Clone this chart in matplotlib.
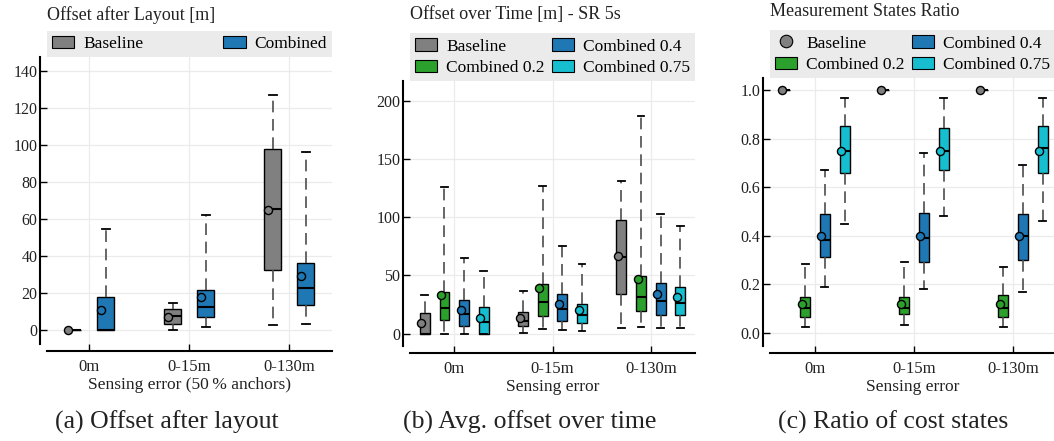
import matplotlib
matplotlib.use('Agg')
import matplotlib.pyplot as plt
from matplotlib.patches import Patch
from matplotlib.lines import Line2D

plt.rcParams['font.family'] = ['Liberation Serif', 'DejaVu Serif']

categories = ['0m', '0-15m', '0-130m']

# (a) offset after layout
a_base_q1 = [0, 3.6, 32.4]
a_base_med = [0, 7.6, 65.2]
a_base_q3 = [0, 11.4, 97.7]
a_base_lo = [0, 0.2, 2.7]
a_base_hi = [0, 14.6, 127]
a_base_mean = [0, 7.4, 65]

a_comb_q1 = [0, 7.4, 13.5]
a_comb_med = [0, 12.8, 22.9]
a_comb_q3 = [18.2, 21.6, 36.3]
a_comb_lo = [0, 1.8, 3.6]
a_comb_hi = [54.8, 62, 96.3]
a_comb_mean = [11, 18.2, 29.5]

# (b) avg offset over time
b_base_q1 = [0, 6.3, 33.7]
b_base_med = [0, 10.9, 65.7]
b_base_q3 = [17.4, 18.6, 97.7]
b_base_lo = [0, 0.6, 4.9]
b_base_hi = [33.4, 36.9, 130.7]
b_base_mean = [8.9, 13.4, 66.3]

b_c02_q1 = [12, 15.1, 19.4]
b_c02_med = [21.7, 27.1, 31.7]
b_c02_q3 = [36, 42.9, 49.7]
b_c02_lo = [0, 4.3, 5.4]
b_c02_hi = [126.1, 127, 187]
b_c02_mean = [33.4, 39.1, 46.9]

b_c04_q1 = [6.9, 11.1, 16]
b_c04_med = [17.1, 20.9, 27.7]
b_c04_q3 = [28.9, 34, 43.1]
b_c04_lo = [0, 2.9, 4.9]
b_c04_hi = [64.9, 75.4, 102.6]
b_c04_mean = [20, 25.1, 34.3]

b_c075_q1 = [0, 9.1, 15.7]
b_c075_med = [10, 15.7, 26.3]
b_c075_q3 = [22.9, 25.4, 40]
b_c075_lo = [0, 2.3, 4.9]
b_c075_hi = [54, 59.7, 92.3]
b_c075_mean = [13.7, 20, 31.4]

# (c) ratio of cost states
c_base_q1 = [1.0, 1.0, 1.0]
c_base_med = [1.0, 1.0, 1.0]
c_base_q3 = [1.0, 1.0, 1.0]
c_base_lo = [1.0, 1.0, 1.0]
c_base_hi = [1.0, 1.0, 1.0]
c_base_mean = [1.0, 1.0, 1.0]

c_c02_q1 = [0.066, 0.08, 0.066]
c_c02_med = [0.102, 0.102, 0.102]
c_c02_q3 = [0.146, 0.146, 0.157]
c_c02_lo = [0.023, 0.033, 0.023]
c_c02_hi = [0.283, 0.293, 0.271]
c_c02_mean = [0.118, 0.118, 0.118]

c_c04_q1 = [0.313, 0.291, 0.302]
c_c04_med = [0.384, 0.393, 0.4]
c_c04_q3 = [0.492, 0.495, 0.492]
c_c04_lo = [0.19, 0.179, 0.169]
c_c04_hi = [0.672, 0.742, 0.694]
c_c04_mean = [0.4, 0.4, 0.4]

c_c075_q1 = [0.659, 0.672, 0.659]
c_c075_med = [0.75, 0.75, 0.764]
c_c075_q3 = [0.852, 0.843, 0.852]
c_c075_lo = [0.448, 0.484, 0.462]
c_c075_hi = [0.967, 0.967, 0.967]
c_c075_mean = [0.75, 0.75, 0.75]

GRAY = '#808080'
BLUE = '#1f77b4'
GREEN = '#2ca02c'
CYAN = '#17becf'
LEGEND_BG = '#ebebeb'

W, H = 1054, 441
fig = plt.figure(figsize=(W / 100, H / 100), dpi=100)


def px_axes(left, top, right, bottom):
    return fig.add_axes([left / W, 1 - bottom / H, (right - left) / W, (bottom - top) / H])


def draw_series(ax, q1, med, q3, lo, hi, mean, offset, width, capw, color, mean_shift):
    stats = []
    for i in range(len(categories)):
        stats.append({'q1': q1[i], 'med': med[i], 'q3': q3[i],
                      'whislo': lo[i], 'whishi': hi[i], 'fliers': []})
    pos = [i + 1 + offset for i in range(len(categories))]
    ax.bxp(stats, positions=pos, widths=width, capwidths=capw, patch_artist=True,
           showfliers=False,
           boxprops=dict(facecolor=color, edgecolor='black', linewidth=1.0),
           whiskerprops=dict(color='#4d4d4d', linewidth=1.2, linestyle=(0, (7, 4))),
           capprops=dict(color='black', linewidth=1.3),
           medianprops=dict(color='black', linewidth=1.5),
           manage_ticks=False, zorder=3)
    ax.scatter([p + mean_shift for p in pos], mean, s=34, color=color,
               edgecolor='black', linewidth=1.0, zorder=5)


def style_axes(ax, xlim, ylim, yticks, xlabel):
    ax.set_xlim(*xlim)
    ax.set_ylim(*ylim)
    ax.set_xticks([1, 2, 3])
    ax.set_xticklabels(categories)
    ax.set_yticks(yticks)
    ax.grid(True, color='#ebebeb', linewidth=0.9, zorder=0)
    ax.set_axisbelow(True)
    for s in ['top', 'right']:
        ax.spines[s].set_visible(False)
    ax.spines['left'].set_position(('outward', 5))
    ax.spines['bottom'].set_position(('outward', 5))
    ax.spines['left'].set_linewidth(1.5)
    ax.spines['bottom'].set_linewidth(1.5)
    ax.tick_params(axis='both', direction='in', length=5, width=1, labelcolor='#222222')
    ax.tick_params(axis='y', pad=2, labelsize=11.5)
    ax.tick_params(axis='x', pad=5.5, labelsize=12)
    ax.set_xlabel(xlabel, fontsize=12.5, labelpad=1.5, color='#222222')


def add_legend(ax, handles, labels, ncol):
    leg = ax.legend(handles, labels, loc='lower left', bbox_to_anchor=(0, 1, 1, 0.2),
                    mode='expand', ncol=ncol, borderaxespad=0, fontsize=12.5,
                    frameon=True, fancybox=False, facecolor=LEGEND_BG, edgecolor=LEGEND_BG,
                    framealpha=1, borderpad=0.28, labelspacing=0.3, handlelength=1.3,
                    handleheight=0.75, handletextpad=0.5, columnspacing=1.0)
    leg.get_frame().set_linewidth(0)
    return leg


def box_handle(color):
    return Patch(facecolor=color, edgecolor='black', linewidth=0.8)


# ---- (a)
ax_a = px_axes(47, 57, 332, 344)
draw_series(ax_a, a_base_q1, a_base_med, a_base_q3, a_base_lo, a_base_hi, a_base_mean,
            -0.165, 0.17, 0.08, GRAY, -0.05)
draw_series(ax_a, a_comb_q1, a_comb_med, a_comb_q3, a_comb_lo, a_comb_hi, a_comb_mean,
            0.165, 0.17, 0.08, BLUE, -0.05)
style_axes(ax_a, (0.58, 3.43), (-7.4, 147.4), range(0, 141, 20),
           'Sensing error (50\u2009% anchors)')
add_legend(ax_a, [box_handle(GRAY), box_handle(BLUE)], ['Baseline', 'Combined'], 2)
fig.text(47 / W, 1 - 15 / H, 'Offset after Layout [m]', fontsize=13, va='center', ha='left',
         color='#222222')

# ---- (b)
ax_b = px_axes(410, 81, 695, 346)
draw_series(ax_b, b_base_q1, b_base_med, b_base_q3, b_base_lo, b_base_hi, b_base_mean,
            -0.3, 0.1, 0.07, GRAY, -0.035)
draw_series(ax_b, b_c02_q1, b_c02_med, b_c02_q3, b_c02_lo, b_c02_hi, b_c02_mean,
            -0.1, 0.1, 0.07, GREEN, -0.035)
draw_series(ax_b, b_c04_q1, b_c04_med, b_c04_q3, b_c04_lo, b_c04_hi, b_c04_mean,
            0.1, 0.1, 0.07, BLUE, -0.035)
draw_series(ax_b, b_c075_q1, b_c075_med, b_c075_q3, b_c075_lo, b_c075_hi, b_c075_mean,
            0.3, 0.1, 0.07, CYAN, -0.035)
style_axes(ax_b, (0.549, 3.45), (-10.6, 217), range(0, 201, 50), 'Sensing error')
add_legend(ax_b, [box_handle(GRAY), box_handle(GREEN), box_handle(BLUE), box_handle(CYAN)],
           ['Baseline', 'Combined 0.2', 'Combined 0.4', 'Combined 0.75'], 2)
fig.text(410 / W, 1 - 14.5 / H, 'Offset over Time [m] - SR 5s', fontsize=13, va='center',
         ha='left', color='#222222')

# ---- (c)
ax_c = px_axes(770, 78, 1055, 346)
draw_series(ax_c, c_base_q1, c_base_med, c_base_q3, c_base_lo, c_base_hi, c_base_mean,
            -0.3, 0.1, 0.07, GRAY, -0.035)
draw_series(ax_c, c_c02_q1, c_c02_med, c_c02_q3, c_c02_lo, c_c02_hi, c_c02_mean,
            -0.1, 0.1, 0.07, GREEN, -0.035)
draw_series(ax_c, c_c04_q1, c_c04_med, c_c04_q3, c_c04_lo, c_c04_hi, c_c04_mean,
            0.1, 0.1, 0.07, BLUE, -0.035)
draw_series(ax_c, c_c075_q1, c_c075_med, c_c075_q3, c_c075_lo, c_c075_hi, c_c075_mean,
            0.3, 0.1, 0.07, CYAN, -0.035)
style_axes(ax_c, (0.545, 3.424), (-0.054, 1.051), [0.0, 0.2, 0.4, 0.6, 0.8, 1.0],
           'Sensing error')
ax_c.set_yticklabels(['0.0', '0.2', '0.4', '0.6', '0.8', '1.0'])
gray_dot = Line2D([], [], marker='o', linestyle='none', markersize=9,
                  markerfacecolor=GRAY, markeredgecolor='black', markeredgewidth=0.8)
add_legend(ax_c, [gray_dot, box_handle(GREEN), box_handle(BLUE), box_handle(CYAN)],
           ['Baseline', 'Combined 0.2', 'Combined 0.4', 'Combined 0.75'], 2)
fig.text(770 / W, 1 - 11.5 / H, 'Measurement States Ratio', fontsize=13, va='center',
         ha='left', color='#222222')

# sub captions
for xc, txt in [(166.5, '(a) Offset after layout'), (530, '(b) Avg. offset over time'),
                (893, '(c) Ratio of cost states')]:
    fig.text(xc / W, 1 - 422 / H, txt, fontsize=18.5, ha='center', va='center', color='#222222')

fig.savefig('out.png', dpi=100)
